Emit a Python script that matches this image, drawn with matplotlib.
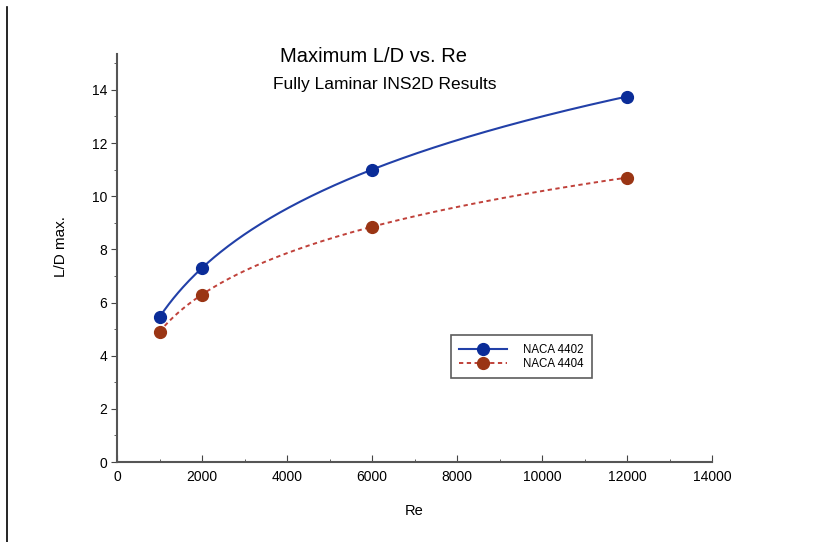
import numpy as np
import matplotlib.pyplot as plt
from matplotlib.lines import Line2D
from matplotlib.ticker import MultipleLocator

plt.rcParams['font.family'] = ['Liberation Sans', 'DejaVu Sans']

# Reynolds numbers and max L/D
re = [1000, 2000, 6000, 12000]
ld_4402 = [5.45, 7.3, 11.0, 13.75]
ld_4404 = [4.9, 6.3, 8.85, 10.7]
names = ['NACA 4402', 'NACA 4404']

fig = plt.figure(figsize=(8.17, 5.42), dpi=100)
ax = fig.add_axes([117 / 817, 1 - 462 / 542, (712 - 117) / 817, (462 - 54) / 542])

# smooth curve through the points (cubic in log Re)
xs = np.linspace(re[0], re[-1], 300)
c1 = np.polyfit(np.log(re), ld_4402, 3)
c2 = np.polyfit(np.log(re), ld_4404, 3)

blue = '#2240a8'
red = '#c0413a'
ax.plot(xs, np.polyval(c1, np.log(xs)), color=blue, lw=1.5)
ax.plot(xs, np.polyval(c2, np.log(xs)), color=red, lw=1.4, ls=(0, (2.2, 1.8)))
ax.plot(re, ld_4402, 'o', color='#0a2c98', ms=8.5)
ax.plot(re, ld_4404, 'o', color='#9a3514', ms=8.5)

h1 = Line2D([], [], color=blue, lw=1.5, marker='o', ms=8.5, mfc='#0a2c98', mec='#0a2c98')
h2 = Line2D([], [], color=red, lw=1.4, ls=(0, (2.2, 1.8)), marker='o', ms=8.5,
            mfc='#9a3514', mec='#9a3514')
leg = ax.legend([h1, h2], names, loc='upper left', bbox_to_anchor=(0.5615, 0.3105),
                fontsize=8.3, frameon=True, fancybox=False, handlelength=4.1,
                borderpad=0.72, labelspacing=0.22, handletextpad=1.4, borderaxespad=0)
leg.get_frame().set_edgecolor('#333333')
leg.get_frame().set_linewidth(1.2)

ax.set_xlim(0, 14000)
ax.set_ylim(0, 15.35)
ax.xaxis.set_major_locator(MultipleLocator(2000))
ax.xaxis.set_minor_locator(MultipleLocator(1000))
ax.yaxis.set_major_locator(MultipleLocator(2))
ax.yaxis.set_minor_locator(MultipleLocator(1))
ax.spines['top'].set_visible(False)
ax.spines['right'].set_visible(False)
for s in ['left', 'bottom']:
    ax.spines[s].set_color('#555555')
    ax.spines[s].set_linewidth(1.5)
ax.tick_params(axis='x', which='major', direction='in', length=5, color='#444444',
               labelsize=10, pad=6)
ax.tick_params(axis='x', which='minor', direction='in', length=2.5, color='#444444')
ax.tick_params(axis='y', which='major', direction='out', length=4, color='#444444',
               labelsize=10, pad=3)
ax.tick_params(axis='y', which='minor', direction='out', length=2, color='#444444')

ax.set_xlabel('Re', fontsize=10.5, labelpad=14)
ax.set_ylabel('L/D max.', fontsize=11)
ax.yaxis.set_label_coords(-0.083, 0.527)

fig.text(374 / 817, 1 - 57 / 542, 'Maximum L/D vs. Re', ha='center', va='center', fontsize=14.5)
fig.text(385 / 817, 1 - 84 / 542, 'Fully Laminar INS2D Results', ha='center', va='center',
         fontsize=12.5)

# page border on the left of the scanned figure
fig.add_artist(Line2D([7 / 817, 7 / 817], [0, 1 - 7 / 542], color='black', lw=1.2))

fig.savefig('out.png', dpi=100)
